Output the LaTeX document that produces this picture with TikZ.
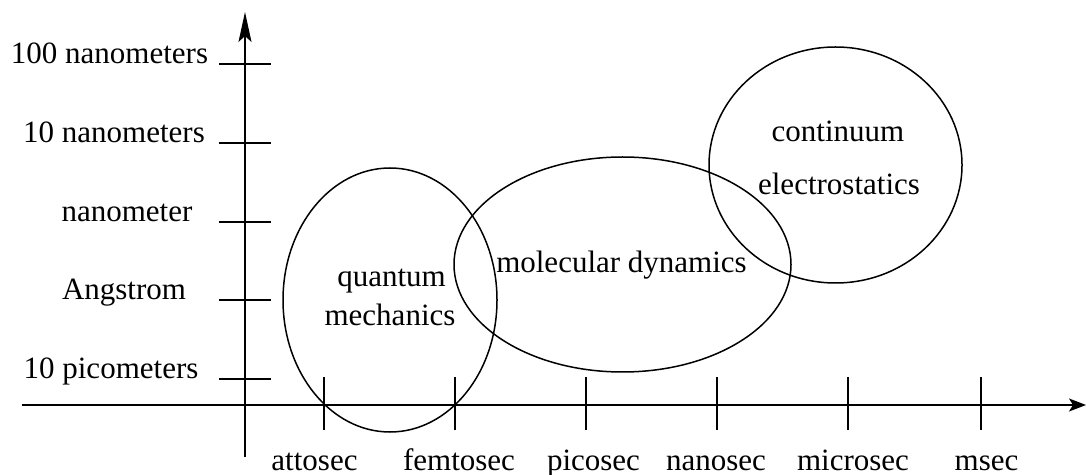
\documentclass[tikz,border=0pt]{standalone}
\usepackage{fontspec}
\setmainfont{Liberation Serif}
\usetikzlibrary{arrows.meta,shapes.geometric}
\begin{document}
\begin{tikzpicture}[x=0.5pt,y=-0.5pt,
  line width=0.75pt,
  lbl/.style={anchor=base,inner sep=0pt,font=\fontsize{15.5}{18}\selectfont},
  region/.style={draw,ellipse,inner sep=0pt},
  tick/.style={line width=0.75pt}]
\useasboundingbox (0,0) rectangle (1086,475);
% axes
\coordinate (xs) at (22,405);
\coordinate (xe) at (1086,405);
\coordinate (ys) at (245,457);
\coordinate (ye) at (245,12);
\draw[-{Stealth[length=8.5pt,width=6.5pt,inset=2pt]}] (xs) -- (xe);
\draw[-{Stealth[length=15pt,width=6.5pt,inset=3pt]}] (ys) -- (ye);
% y ticks and labels
\foreach \yy/\xx/\t [count=\i] in {64/109.5/100 nanometers,143/114/10 nanometers,222/127/nanometer,300/124/Angstrom,379/111/10 picometers}{
  \coordinate (yl\i) at (219,\yy);
  \coordinate (yr\i) at (271,\yy);
  \draw[tick] (yl\i) -- (yr\i);
  \node[lbl] (ylab\i) at (\xx,\yy) {\t};
}
% x ticks and labels
\foreach \xx/\lx/\t [count=\i] in {324/314.5/attosec,455/459/femtosec,586/593.5/picosec,717/716/nanosec,848/853/microsec,981/986.5/msec}{
  \coordinate (xt\i) at (\xx,377);
  \coordinate (xb\i) at (\xx,430);
  \draw[tick] (xt\i) -- (xb\i);
  \node[lbl] (xlab\i) at (\lx,470) {\t};
}
% regions
\node[region,minimum width=107pt,minimum height=132pt] (qm) at (390,300) {};
\node[region,minimum width=168.5pt,minimum height=107.5pt] (md) at (622.5,264.5) {};
\node[region,minimum width=126.5pt,minimum height=118pt] (ce) at (835.5,165) {};
% region labels
\node[lbl] (qm1) at (391.5,287) {quantum};
\node[lbl] (qm2) at (390,326) {mechanics};
\node[lbl] (md1) at (621.5,273) {molecular dynamics};
\node[lbl] (ce1) at (838,142) {continuum};
\node[lbl] (ce2) at (839,195) {electrostatics};
\end{tikzpicture}
\end{document}
